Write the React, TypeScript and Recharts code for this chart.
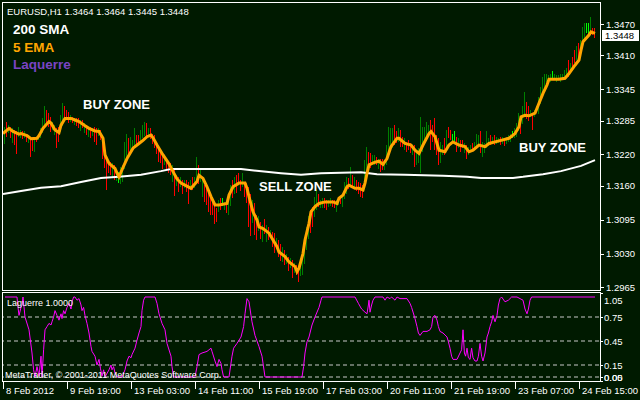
import React from "react";
import { ComposedChart, Bar, Line, XAxis, YAxis, ReferenceLine } from "recharts";

const BG = "#001a00";
const FONT = "'Liberation Sans', Arial, sans-serif";
const BAR_COLORS: Record<string, string> = { g: "#008000", r: "#ff0000", l: "#00ff00" };

// EURUSD H1 bars, one per hour from 8 Feb 2012 11:00
const highs = [
  1.3286, 1.3273, 1.3283, 1.3276, 1.3273, 1.327, 1.3267, 1.3264, 1.3273, 1.3267,
  1.3264, 1.3264, 1.326, 1.3257, 1.3254, 1.3254, 1.3254, 1.3254, 1.326, 1.327,
  1.3289, 1.3312, 1.3305, 1.3299, 1.3292, 1.3283, 1.3276, 1.327, 1.3273, 1.3296,
  1.3318, 1.3312, 1.3305, 1.3302, 1.3296, 1.3292, 1.3289, 1.3289, 1.3289, 1.3286,
  1.3286, 1.328, 1.3276, 1.3273, 1.3273, 1.327, 1.3273, 1.327, 1.327, 1.3267,
  1.3254, 1.3232, 1.3212, 1.3209, 1.3206, 1.3203, 1.32, 1.319, 1.3187, 1.3196,
  1.32, 1.3244, 1.326, 1.3251, 1.3254, 1.3248, 1.327, 1.3257, 1.3257, 1.3267,
  1.3276, 1.3283, 1.328, 1.327, 1.327, 1.326, 1.3257, 1.3241, 1.3232, 1.3225,
  1.3219, 1.3216, 1.3212, 1.3206, 1.3203, 1.32, 1.3193, 1.318, 1.3177, 1.3177,
  1.3171, 1.3171, 1.3171, 1.3168, 1.3171, 1.3177, 1.3177, 1.3216, 1.32, 1.3193,
  1.3177, 1.3161, 1.3158, 1.3152, 1.3136, 1.3133, 1.3126, 1.3117, 1.3133, 1.3136,
  1.3136, 1.3129, 1.3126, 1.3142, 1.3161, 1.3171, 1.3177, 1.318, 1.3184, 1.3171,
  1.3184, 1.3168, 1.3165, 1.3158, 1.3145, 1.3133, 1.3126, 1.3104, 1.3101, 1.3091,
  1.3085, 1.3097, 1.3085, 1.3081, 1.3075, 1.3072, 1.3069, 1.3059, 1.3056, 1.3049,
  1.3043, 1.3037, 1.303, 1.3024, 1.3021, 1.3017, 1.3011, 1.3008, 1.3005, 1.3011,
  1.3037, 1.3049, 1.3081, 1.3101, 1.3113, 1.312, 1.3139, 1.3152, 1.3145, 1.3133,
  1.3136, 1.3136, 1.3133, 1.3133, 1.3136, 1.3133, 1.3133, 1.3133, 1.3136, 1.3139,
  1.3145, 1.3168, 1.3177, 1.3174, 1.3196, 1.318, 1.3177, 1.3171, 1.3168, 1.3165,
  1.3161, 1.3209, 1.3235, 1.3225, 1.3222, 1.3219, 1.3219, 1.3216, 1.3212, 1.3212,
  1.3212, 1.3209, 1.3238, 1.3273, 1.327, 1.327, 1.3276, 1.3264, 1.327, 1.3267,
  1.3254, 1.3251, 1.3244, 1.3248, 1.3241, 1.3235, 1.3238, 1.3228, 1.3232, 1.3292,
  1.3273, 1.3273, 1.3283, 1.3276, 1.3286, 1.3276, 1.3289, 1.3257, 1.3251, 1.3244,
  1.3238, 1.3251, 1.3267, 1.3273, 1.3267, 1.326, 1.3264, 1.3254, 1.3251, 1.3248,
  1.3248, 1.3241, 1.3238, 1.3235, 1.3238, 1.3241, 1.3244, 1.326, 1.3257, 1.3264,
  1.3244, 1.3241, 1.3264, 1.3251, 1.3257, 1.3254, 1.3257, 1.3254, 1.3251, 1.3254,
  1.3254, 1.3251, 1.3254, 1.3257, 1.326, 1.3264, 1.327, 1.328, 1.3299, 1.3286,
  1.3312, 1.334, 1.3321, 1.3312, 1.3305, 1.3299, 1.3305, 1.3312, 1.3331, 1.335,
  1.3369, 1.3375, 1.3375, 1.3372, 1.3375, 1.3379, 1.3375, 1.3372, 1.3372, 1.3375,
  1.3375, 1.3382, 1.3385, 1.3401, 1.3395, 1.3407, 1.342, 1.3427, 1.3433, 1.3439,
  1.3465, 1.3471, 1.3471, 1.3471, 1.3484, 1.3462, 1.3462,
];
const lows = [
  1.3257, 1.3241, 1.3254, 1.326, 1.3251, 1.3241, 1.3238, 1.3219, 1.3254, 1.3251,
  1.3248, 1.3251, 1.3244, 1.3241, 1.3216, 1.3228, 1.3225, 1.3244, 1.3248, 1.3251,
  1.326, 1.327, 1.328, 1.3273, 1.3264, 1.3267, 1.3257, 1.3232, 1.3244, 1.3264,
  1.3273, 1.3286, 1.3286, 1.328, 1.3283, 1.328, 1.3276, 1.3273, 1.327, 1.3264,
  1.327, 1.326, 1.3257, 1.3254, 1.3251, 1.3254, 1.3244, 1.3238, 1.3254, 1.3248,
  1.3212, 1.3193, 1.3152, 1.3184, 1.3181, 1.3174, 1.3171, 1.3168, 1.3165, 1.3164,
  1.3168, 1.3193, 1.3212, 1.3219, 1.3225, 1.3228, 1.3235, 1.3238, 1.3241, 1.3244,
  1.3251, 1.3257, 1.3254, 1.3254, 1.3248, 1.3241, 1.3232, 1.3219, 1.3206, 1.3203,
  1.3193, 1.32, 1.319, 1.3184, 1.318, 1.3168, 1.3142, 1.3158, 1.3148, 1.3158,
  1.3145, 1.3155, 1.3148, 1.3126, 1.3152, 1.3152, 1.3155, 1.3168, 1.3164, 1.3168,
  1.3139, 1.3129, 1.3123, 1.311, 1.3104, 1.3104, 1.3085, 1.3091, 1.311, 1.3113,
  1.312, 1.3113, 1.3107, 1.3104, 1.312, 1.3136, 1.3145, 1.3145, 1.3161, 1.3149,
  1.3158, 1.3139, 1.3126, 1.3081, 1.3065, 1.3088, 1.3065, 1.3056, 1.3072, 1.3059,
  1.3053, 1.3069, 1.3053, 1.3056, 1.3059, 1.3043, 1.303, 1.3037, 1.3024, 1.3017,
  1.3014, 1.3008, 1.3011, 1.2998, 1.3002, 1.2982, 1.2992, 1.2989, 1.2976, 1.2986,
  1.2989, 1.3011, 1.3037, 1.3056, 1.3069, 1.3081, 1.3101, 1.3113, 1.312, 1.3117,
  1.3117, 1.3117, 1.3113, 1.312, 1.312, 1.312, 1.3117, 1.311, 1.3123, 1.3126,
  1.312, 1.3136, 1.3145, 1.3152, 1.3158, 1.3158, 1.3155, 1.3149, 1.3145, 1.3139,
  1.3136, 1.3165, 1.3187, 1.3196, 1.3193, 1.3203, 1.32, 1.32, 1.3193, 1.3187,
  1.319, 1.319, 1.32, 1.3219, 1.3232, 1.3232, 1.3238, 1.3241, 1.3244, 1.3235,
  1.3235, 1.3228, 1.3225, 1.3228, 1.3222, 1.3219, 1.3196, 1.32, 1.3203, 1.3184,
  1.3225, 1.3241, 1.3254, 1.3257, 1.3228, 1.3244, 1.3228, 1.3219, 1.32, 1.3203,
  1.3219, 1.3219, 1.3235, 1.3251, 1.3248, 1.3244, 1.3244, 1.3225, 1.3232, 1.3225,
  1.3232, 1.3222, 1.3212, 1.3219, 1.3225, 1.3228, 1.3232, 1.3232, 1.3238, 1.3222,
  1.3216, 1.3222, 1.3232, 1.3238, 1.3238, 1.3241, 1.3238, 1.3241, 1.3241, 1.3238,
  1.3241, 1.3235, 1.3241, 1.3244, 1.3244, 1.3251, 1.3251, 1.3254, 1.3264, 1.326,
  1.3277, 1.3292, 1.3289, 1.3283, 1.3292, 1.3267, 1.3292, 1.3299, 1.3299, 1.3318,
  1.3331, 1.3343, 1.3359, 1.3359, 1.3359, 1.3363, 1.3363, 1.3359, 1.3363, 1.3359,
  1.3363, 1.3366, 1.3369, 1.3369, 1.3379, 1.3382, 1.3395, 1.3401, 1.3407, 1.3414,
  1.3427, 1.3439, 1.3452, 1.3449, 1.3452, 1.3449, 1.3443,
];
// g = up bar, r = down bar, l = lime
const barColors =
  "rgrgrgrrgg" + "rgrgrrgrgg" + "ggrrrggrrg" + "grrrgrgrrg" + "rgrgrgrrgr" +
  "rrrrrgrglg" + "gggrgggrrg" + "ggrgrrrrrr" + "rgrrrgrgrg" + "rgrrgrggrg" +
  "grrrrrrrgr" + "lgrggrgrrr" + "grrrrgrrgr" + "grgrgrrgrr" + "grgrgrgrrg" +
  "ggggrrggrg" + "grrggrrggr" + "gggrgrgrrr" + "rggrrggrgr" + "rgggggrrgr" +
  "rgrrrgrggg" + "ggggrrrrrg" + "grgrrllrgr" + "rgrggrgggr" + "ggggrgrggr" +
  "grggglgggr" + "ggrrgrgggg" + "ggggglgggg" + "gggrgrrgrg" + "ggllgrr";

// [bar, value]
const emaPoints: [number, number][] = [
  [0, 1.326], [3, 1.327], [5, 1.3264], [8, 1.3259], [9, 1.326], [12, 1.3256], [14, 1.325],
  [17, 1.3251], [18, 1.3256], [20, 1.327], [23, 1.3283], [24, 1.328], [26, 1.3267], [28, 1.3262],
  [29, 1.3276], [31, 1.3289], [34, 1.3289], [36, 1.3286], [38, 1.3283], [41, 1.3275], [43, 1.327],
  [46, 1.3265], [48, 1.3264], [50, 1.3251], [51, 1.3219], [53, 1.3203], [56, 1.3193], [57, 1.3184],
  [58, 1.3177], [60, 1.3195], [62, 1.3212], [65, 1.3232], [68, 1.3241], [70, 1.3247], [72, 1.3254],
  [74, 1.3257], [75, 1.3252], [77, 1.3238], [80, 1.3219], [83, 1.3202], [85, 1.3187], [87, 1.3173],
  [89, 1.3165], [91, 1.3161], [94, 1.3155], [97, 1.3168], [98, 1.318], [100, 1.3174], [102, 1.3158],
  [104, 1.3139], [106, 1.3123], [108, 1.3123], [112, 1.3126], [113, 1.3142], [115, 1.3158],
  [118, 1.3165], [121, 1.3165], [122, 1.3155], [123, 1.3139], [125, 1.311], [127, 1.3094],
  [128, 1.3081], [130, 1.3078], [133, 1.3069], [135, 1.3056], [137, 1.3043], [138, 1.3033],
  [141, 1.3024], [143, 1.3014], [146, 1.3005], [147, 1.2995], [148, 1.3002], [150, 1.303],
  [151, 1.3056], [153, 1.3088], [154, 1.311], [156, 1.312], [158, 1.3126], [161, 1.3129],
  [165, 1.3129], [167, 1.3126], [168, 1.3136], [170, 1.3142], [172, 1.3158], [173, 1.3161],
  [176, 1.3155], [178, 1.3155], [180, 1.3152], [181, 1.3165], [182, 1.3184], [183, 1.32],
  [186, 1.3205], [188, 1.3207], [190, 1.3201], [192, 1.3212], [194, 1.3235], [197, 1.3251],
  [198, 1.3251], [201, 1.3241], [204, 1.3238], [206, 1.3228], [208, 1.3222], [210, 1.3238],
  [213, 1.326], [214, 1.3264], [216, 1.3254], [218, 1.3228], [221, 1.3225], [223, 1.3238],
  [225, 1.3244], [228, 1.3238], [231, 1.3235], [233, 1.3225], [235, 1.3228], [238, 1.3238],
  [241, 1.3235], [243, 1.3241], [248, 1.3246], [253, 1.3251], [256, 1.326], [258, 1.3273],
  [259, 1.3292], [261, 1.3295], [263, 1.3294], [266, 1.3299], [268, 1.3318], [270, 1.3337],
  [272, 1.3353], [273, 1.3364], [278, 1.3364], [281, 1.3366], [283, 1.3375], [286, 1.3391],
  [288, 1.3401], [289, 1.342], [290, 1.3436], [293, 1.3449], [294, 1.3455], [296, 1.3452],
];
const smaPoints: [number, number][] = [
  [0, 1.3144], [9, 1.315], [19, 1.3156], [29, 1.3159], [39, 1.3167], [49, 1.3175], [58, 1.3177],
  [69, 1.3181], [79, 1.3188], [84, 1.3192], [119, 1.3192], [128, 1.3188], [139, 1.3184],
  [149, 1.3181], [159, 1.3184], [179, 1.3186], [187, 1.3182], [201, 1.3181], [220, 1.3179],
  [232, 1.3177], [239, 1.3175], [255, 1.3175], [260, 1.3177], [270, 1.3182], [279, 1.3188],
  [289, 1.3198], [296, 1.3209],
];
const laguerrePoints: [number, number][] = [
  [1, 1], [7, 1], [7.5, 0.87], [8, 0.77], [9, 0.87], [9.5, 0.9], [10, 1], [11, 0.75], [13, 0.59],
  [14.5, 0.3], [15.3, 0.09], [16, 0], [17, 0.13], [18, 0.01], [19, 0.26], [19.5, 0], [20.3, 0.34],
  [21, 0.59], [22, 0.63], [23, 0.67], [24, 0.65], [24.5, 0.69], [25.3, 0.75], [26, 0.83], [27, 0.77],
  [28, 0.71], [29, 0.79], [29.5, 0.73], [30.3, 0.83], [31, 0.79], [32, 0.87], [33, 0.92], [34, 0.85],
  [34.5, 0.94], [35.3, 1], [36, 1], [37, 0.96], [38, 0.98], [39, 0.9], [39.5, 0.83], [40.3, 0.87],
  [41, 0.77], [42, 0.67], [43, 0.55], [44, 0.38], [44.5, 0.32], [46, 0.26], [47, 0.15], [48, 0.22],
  [48.7, 0.11], [49.5, 0.01], [50.3, 0.09], [51, 0], [53, 0.09], [54, 0.15], [54.5, 0.09],
  [55.3, 0.13], [56, 0.05], [57, 0], [59.5, 0], [61, 0.09], [62, 0.2], [63, 0.26], [64, 0.24],
  [64.5, 0.28], [66, 0.36], [67, 0.46], [68, 0.55], [69, 0.63], [69.5, 0.83], [70.3, 0.96], [71, 1],
  [76, 1], [77, 0.92], [78, 0.79], [79.5, 0.67], [81, 0.59], [82, 0.42], [84, 0.26], [84.5, 0.13],
  [85.3, 0], [96, 0], [97, 0.13], [98, 0.28], [99.5, 0.3], [102, 0.32], [104, 0.36], [104.5, 0.32],
  [106, 0.2], [107, 0.13], [108, 0.22], [109, 0.17], [109.5, 0.09], [110.3, 0], [113, 0],
  [114.5, 0.26], [115.3, 0.36], [117, 0.42], [119, 0.5], [120.3, 0.63], [121, 0.79], [122, 0.98],
  [123, 0.94], [124, 0.77], [124.5, 0.69], [126, 0.52], [128, 0.38], [129.5, 0.26], [131, 0],
  [149.5, 0], [150.3, 0.13], [151, 0.3], [152, 0.44], [153, 0.5], [154.5, 0.65], [156, 0.75],
  [158, 0.87], [159, 0.96], [159.5, 1], [176, 1], [177.7, 0.92], [179.3, 0.85], [181, 0.81],
  [182, 0.79], [182.7, 0.9], [183, 0.96], [183.5, 0.81], [184.3, 0.9], [185, 0.96], [186, 1],
  [190, 1], [191, 0.96], [192, 1], [193.5, 0.98], [194.3, 1], [196, 0.96], [197, 1], [198.5, 0.98],
  [202, 0.98], [203.5, 0.92], [204.3, 0.87], [206, 0.73], [207, 0.63], [207.7, 0.55], [208.5, 0.52],
  [210, 0.57], [212, 0.57], [213.5, 0.59], [214.3, 0.63], [215, 0.75], [216, 0.77], [217, 0.71],
  [217.7, 0.63], [218.5, 0.57], [220, 0.55], [222, 0.5], [222.7, 0.44], [223.5, 0.36], [224.3, 0.26],
  [225, 0.22], [227, 0.22], [228.5, 0.3], [229.3, 0.34], [230, 0.59], [230.7, 0.3], [231.3, 0.26],
  [232, 0.36], [232.7, 0.24], [233.5, 0.22], [234.3, 0.36], [235, 0.24], [236, 0.2], [237, 0.2],
  [237.7, 0.26], [238.5, 0.42], [239.3, 0.26], [240, 0.2], [241, 0.3], [242, 0.5], [242.7, 0.55],
  [243.5, 0.63], [244.3, 0.69], [245, 0.77], [246, 0.69], [247, 0.77], [247.7, 0.9], [248.5, 0.98],
  [249.3, 1], [251, 0.94], [252.7, 0.96], [254.3, 1], [257, 1], [258.5, 0.98], [260, 0.96],
  [261, 0.85], [262, 0.79], [262.7, 0.85], [263.5, 0.96], [264.3, 1], [296, 1],
];

const priceTicks = [1.347, 1.341, 1.3345, 1.3285, 1.322, 1.316, 1.3095, 1.303, 1.2965];
const lastPrice = 1.3448;
const timeTicks = [0, 32, 64, 96, 128, 160, 192, 224, 256, 288];
const timeLabels = [
  "8 Feb 2012", "9 Feb 19:00", "13 Feb 03:00", "14 Feb 11:00", "15 Feb 19:00",
  "17 Feb 03:00", "20 Feb 11:00", "21 Feb 19:00", "23 Feb 07:00", "24 Feb 15:00",
];
const lagTicks = [1.05, 0.75, 0.45, 0.15, 0, -0.05];
const lagTickLabels = ["1.05", "0.75", "0.45", "0.15", "0.00", "0.05"];
const lagLevels = [0.75, 0.45, 0.15, 0];

const candles = highs.map((h, i) => ({ i, range: [lows[i], h], color: BAR_COLORS[barColors[i]] }));
const ema = emaPoints.map(([i, v]) => ({ i, v }));
const sma = smaPoints.map(([i, v]) => ({ i, v }));
const laguerre = laguerrePoints.map(([i, v]) => ({ i, v }));

const CandleShape = (props: any) => {
  const { x, payload } = props;
  let { y, height } = props;
  if (x == null || y == null) return null;
  if (height < 0) {
    y += height;
    height = -height;
  }
  return (
    <rect
      x={Math.round(x)}
      y={Math.round(y)}
      width={1}
      height={Math.max(1, Math.round(height))}
      fill={payload.color}
      shapeRendering="crispEdges"
    />
  );
};

const PriceTick = (props: any) => {
  const { x, y, payload } = props;
  if (payload.value === lastPrice) {
    return (
      <g>
        <rect x={x + 3} y={y - 5.5} width={37} height={11} fill="#ffffff" />
        <text x={x + 6} y={y + 3.5} fill="#000000" fontSize={9.5} fontFamily={FONT}>
          {lastPrice.toFixed(4)}
        </text>
      </g>
    );
  }
  const ly = Math.round(y) + 0.5;
  return (
    <g>
      <line x1={x + 1} x2={x + 5} y1={ly} y2={ly} stroke="#ffffff" />
      <text x={x + 7} y={y + 3.5} fill="#ffffff" fontSize={9.5} fontFamily={FONT}>
        {payload.value.toFixed(4)}
      </text>
    </g>
  );
};

const LagTick = (props: any) => {
  const { x, y, payload } = props;
  const idx = lagTicks.indexOf(payload.value);
  const dy = idx === 0 ? 7 : idx === lagTicks.length - 1 ? -4 : 0;
  const ly = Math.round(y) + 0.5;
  return (
    <g>
      <line x1={x + 1} x2={x + 4} y1={ly} y2={ly} stroke="#ffffff" />
      <text x={x + 5} y={y + dy + 3.5} fill="#ffffff" fontSize={9.5} fontFamily={FONT}>
        {lagTickLabels[idx]}
      </text>
    </g>
  );
};

const TimeTick = (props: any) => {
  const { x, y, payload } = props;
  const label = timeLabels[timeTicks.indexOf(payload.value)];
  const lx = Math.round(x) + 0.5;
  return (
    <g>
      <line x1={lx} x2={lx} y1={y + 1} y2={y + 8} stroke="#ffffff" />
      <text x={x + 3} y={y + 13} fill="#ffffff" fontSize={9.5} fontFamily={FONT}>
        {label}
      </text>
    </g>
  );
};

const App = () => {
  return (
    <div style={{ position: "absolute", left: 0, top: 0, width: 640, height: 400, background: BG, overflow: "hidden" }}>
      <div style={{ position: "absolute", left: 0, top: 0 }}>
        <ComposedChart width={640} height={292} data={candles} margin={{ top: 3, right: 0, bottom: 3, left: 3 }}>
          <XAxis type="number" dataKey="i" domain={[0, 298]} hide allowDataOverflow />
          <YAxis
            orientation="right"
            width={41}
            domain={[1.2962, 1.35103]}
            ticks={[...priceTicks, lastPrice]}
            interval={0}
            axisLine={false}
            tickLine={false}
            tickSize={0}
            tickMargin={0}
            tick={PriceTick}
            allowDataOverflow
          />
          <Bar dataKey="range" barSize={1} shape={CandleShape} isAnimationActive={false} />
          <Line data={sma} dataKey="v" type="linear" stroke="#ffffff" strokeWidth={2} dot={false} activeDot={false} isAnimationActive={false} />
          <Line data={ema} dataKey="v" type="linear" stroke="#ffa500" strokeWidth={3} dot={false} activeDot={false} isAnimationActive={false} />
        </ComposedChart>
      </div>

      <div style={{ position: "absolute", left: 0, top: 292 }}>
        <ComposedChart width={640} height={108} margin={{ top: 1, right: 0, bottom: 0, left: 3 }}>
          <XAxis
            type="number"
            dataKey="i"
            domain={[0, 298]}
            ticks={timeTicks}
            interval={0}
            height={19}
            axisLine={false}
            tickLine={false}
            tickSize={0}
            tickMargin={0}
            tick={TimeTick}
            allowDataOverflow
          />
          <YAxis
            orientation="right"
            width={41}
            domain={[-0.05, 1.05]}
            ticks={lagTicks}
            interval={0}
            axisLine={false}
            tickLine={false}
            tickSize={0}
            tickMargin={0}
            tick={LagTick}
            allowDataOverflow
          />
          {lagLevels.map((lv) => (
            <ReferenceLine key={lv} y={lv} stroke="#c8c8c8" strokeDasharray="4 3" />
          ))}
          <Line data={laguerre} dataKey="v" type="linear" stroke="#ff00ff" strokeWidth={1} dot={false} activeDot={false} isAnimationActive={false} />
        </ComposedChart>
      </div>

      <svg width={640} height={400} style={{ position: "absolute", left: 0, top: 0, pointerEvents: "none" }}>
        <rect x={2.5} y={2.5} width={598} height={288} fill="none" stroke="#ffffff" />
        <rect x={2.5} y={292.5} width={598} height={89} fill="none" stroke="#ffffff" />
        <text x={7} y={15} fill="#ffffff" fontSize={9.5} fontFamily={FONT}>
          EURUSD,H1  1.3464 1.3464 1.3445 1.3448
        </text>
        <text x={13} y={34} fill="#ffffff" fontSize={13.5} fontWeight="bold" fontFamily={FONT}>200 SMA</text>
        <text x={13} y={51.5} fill="#ffa500" fontSize={13.5} fontWeight="bold" fontFamily={FONT}>5 EMA</text>
        <text x={13} y={68.5} fill="#7a44c4" fontSize={13.5} fontWeight="bold" fontFamily={FONT}>Laquerre</text>
        <text x={83} y={108.5} fill="#ffffff" fontSize={13} fontWeight="bold" fontFamily={FONT}>BUY ZONE</text>
        <text x={259} y={191} fill="#ffffff" fontSize={13} fontWeight="bold" fontFamily={FONT}>SELL ZONE</text>
        <text x={519} y={151.5} fill="#ffffff" fontSize={13} fontWeight="bold" fontFamily={FONT}>BUY ZONE</text>
        <text x={7} y={306} fill="#ffffff" fontSize={9} fontFamily={FONT}>Laguerre 1.0000</text>
        <text x={5} y={378} fill="#ffffff" fontSize={9} fontFamily={FONT}>
          MetaTrader, © 2001-2011 MetaQuotes Software Corp.
        </text>
      </svg>
    </div>
  );
};

export default App;
